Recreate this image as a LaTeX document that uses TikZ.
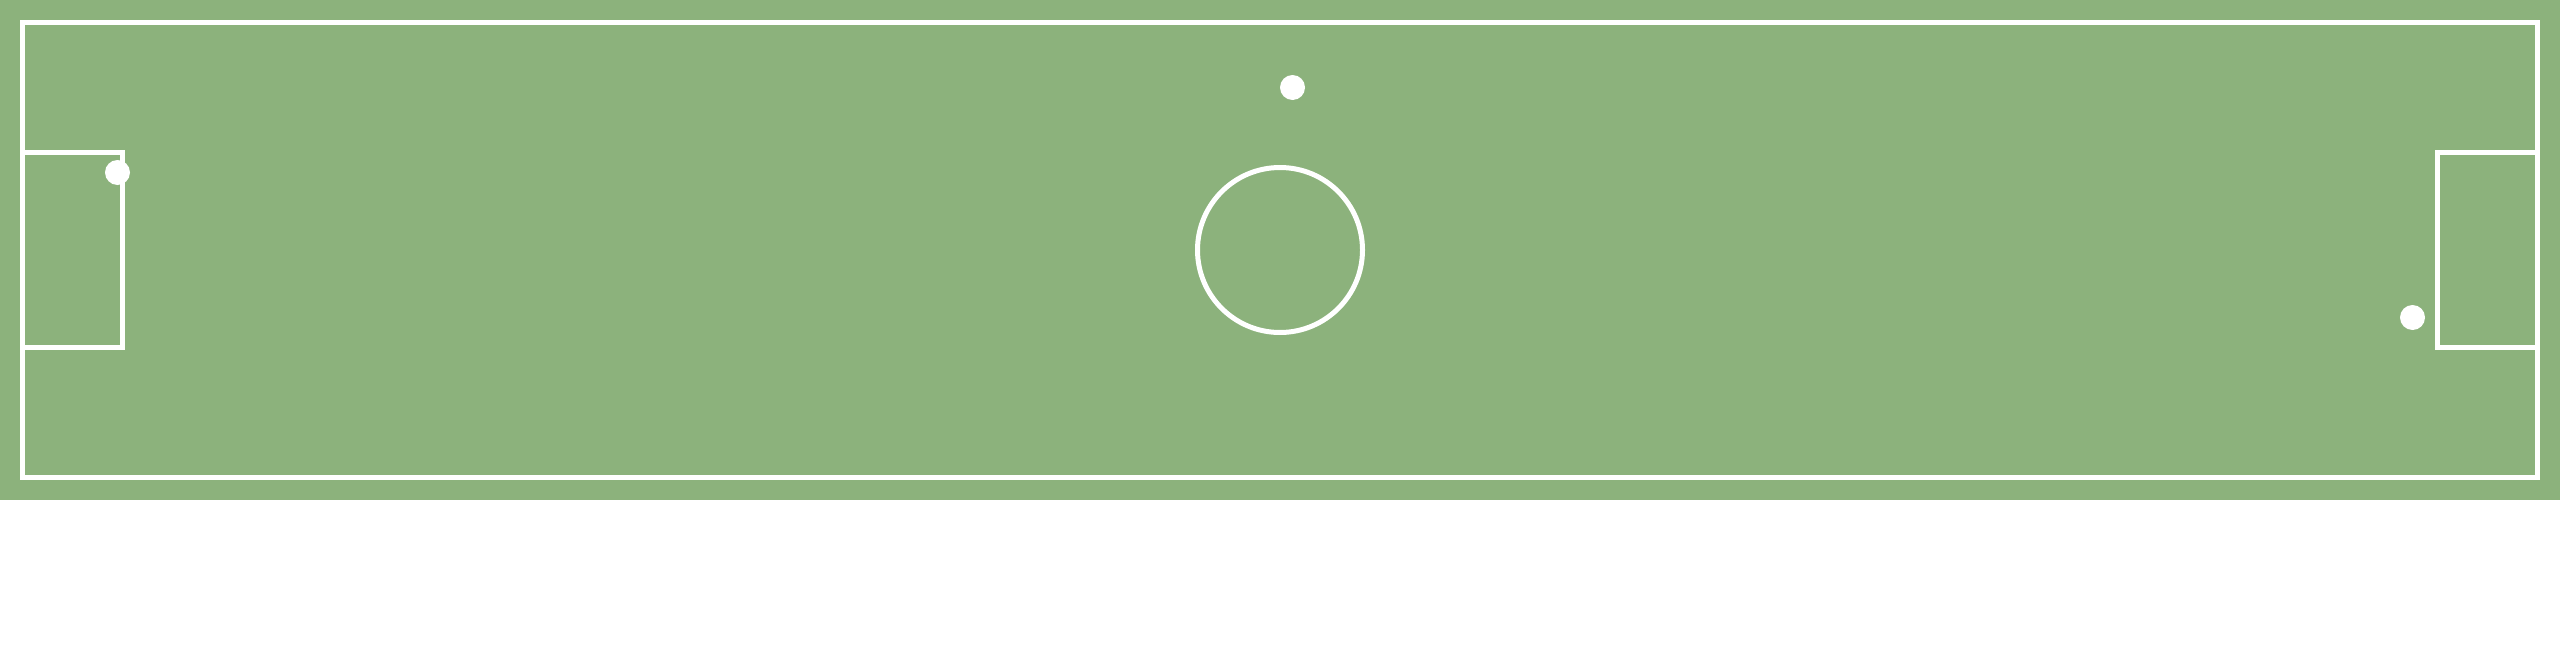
\documentclass[tikz,border=0pt]{standalone}
\definecolor{pitch}{RGB}{140,178,124}
\begin{document}
\begin{tikzpicture}[x=1pt,y=-1pt,
  markline/.style={draw=white,line width=5pt},
  player/.style={circle,fill=white,inner sep=0pt,minimum size=25pt}]
\useasboundingbox (0,0) rectangle (2560,645);
\fill[pitch] (0,0) rectangle (2560,500);
\draw[markline] (22.5,22.5) rectangle (2537.5,477.5);
\draw[markline] (22.5,152.5) -- (122.5,152.5) -- (122.5,347.5) -- (22.5,347.5);
\draw[markline] (2537.5,152.5) -- (2437.5,152.5) -- (2437.5,347.5) -- (2537.5,347.5);
\draw[markline] (1280,250) circle[radius=82.5];
\node[player] (p1) at (1292.5,87.5) {};
\node[player] (p2) at (117.5,172.5) {};
\node[player] (p3) at (2412.5,317.5) {};
\end{tikzpicture}
\end{document}
